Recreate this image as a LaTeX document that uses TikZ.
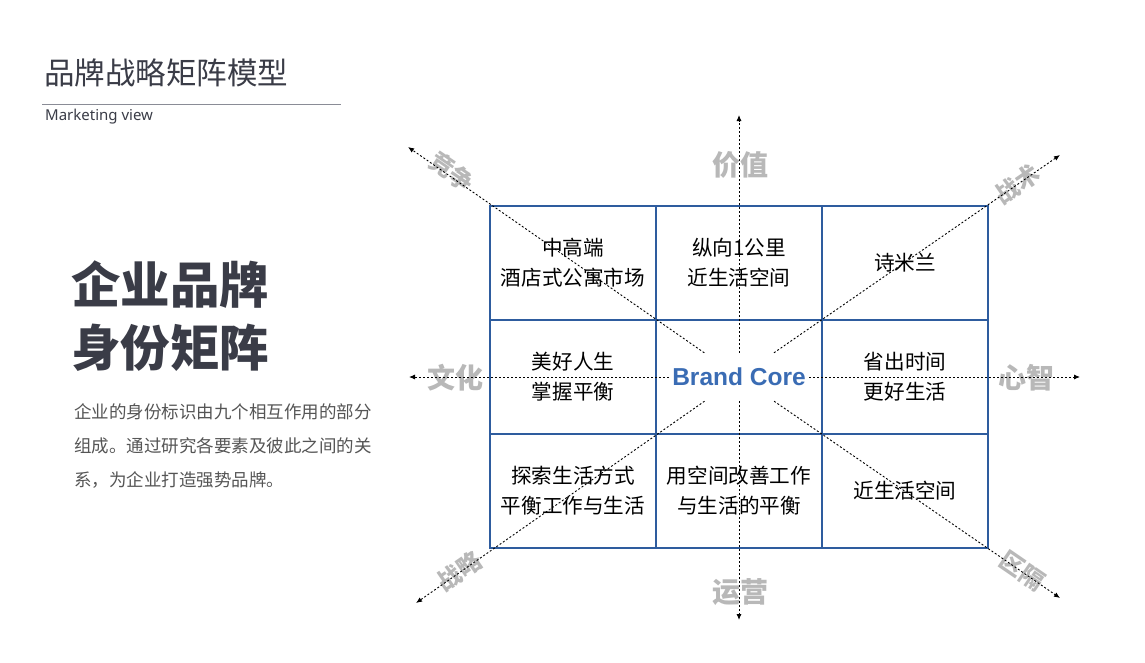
\documentclass[tikz,border=0pt]{standalone}
\usepackage{fontspec}
\setmainfont{Noto Sans CJK SC}
\newfontfamily\latinfont{Noto Sans}
\newfontfamily\corefont{Liberation Sans}
\usetikzlibrary{arrows.meta}
\definecolor{inkgray}{RGB}{58,60,71}
\definecolor{rulegray}{RGB}{138,140,150}
\definecolor{textgray}{RGB}{85,85,85}
\definecolor{axisgray}{RGB}{184,184,184}
\definecolor{gridblue}{RGB}{46,92,158}
\definecolor{coreblue}{RGB}{58,108,180}

\begin{document}
\begin{tikzpicture}[x=1pt, y=-1pt,
    cell/.style={rectangle, draw=gridblue, line width=1.1pt, minimum width=166pt, minimum height=114pt,
                 inner sep=0pt, align=center, font=\fontsize{20.6}{30}\selectfont},
    axislabel/.style={text=axisgray, inner sep=0pt, font=\fontsize{28}{28}\selectfont\bfseries},
    slantlabel/.style={axislabel, font=\fontsize{24}{24}\selectfont\bfseries},
    arrow/.style={-{Latex[length=6pt,width=5pt]}, line width=0.9pt, dash pattern=on 2pt off 2pt}
]

\fill[white] (0,0) rectangle (1145,662);

\node[anchor=west, inner sep=0pt, text=inkgray, font=\fontsize{30.5}{30}\selectfont] (title) at (44,73) {品牌战略矩阵模型};
\draw[rulegray, line width=0.8pt] (42,104) -- (341,104);
\node[anchor=west, inner sep=0pt, text=inkgray, font=\latinfont\fontsize{15}{15}\selectfont] (subtitle) at (45,117) {Marketing view};

\node[anchor=west, align=left, inner sep=0pt, text=inkgray, font=\fontsize{49.5}{63}\selectfont\bfseries] (headline) at (71,316) {企业品牌\\身份矩阵};
\node[anchor=west, align=left, inner sep=0pt, text=textgray, font=\fontsize{17.5}{34}\selectfont] (intro) at (74,446)
    {企业的身份标识由九个相互作用的部分\\组成。通过研究各要素及彼此之间的关\\系，为企业打造强势品牌。};

\node[cell] (c11) at (573,263) {中高端\\酒店式公寓市场};
\node[cell] (c12) at (739,263) {纵向1公里\\近生活空间};
\node[cell] (c13) at (905,263) {诗米兰};
\node[cell] (c21) at (573,377) {美好人生\\掌握平衡};
\node[cell] (c22) at (739,377) {};
\node[cell] (c23) at (905,377) {省出时间\\更好生活};
\node[cell] (c31) at (573,491) {探索生活方式\\平衡工作与生活};
\node[cell] (c32) at (739,491) {用空间改善工作\\与生活的平衡};
\node[cell] (c33) at (905,491) {近生活空间};

\node[axislabel] (value) at (740,165) {价值};
\node[axislabel] (operation) at (740,592) {运营};
\node[axislabel] (culture) at (455,378) {文化};
\node[axislabel] (mind) at (1026,378) {心智};
\node[slantlabel, rotate=-34.5] (compete) at (452,172) {竞争};
\node[slantlabel, rotate=34.5] (tactic) at (1017,184) {战术};
\node[slantlabel, rotate=34.5] (strategy) at (459,571) {战略};
\node[slantlabel, rotate=-34.5] (segment) at (1022,571) {区隔};

\node[minimum width=140pt, minimum height=48pt, inner sep=0pt, text=coreblue,
      font=\corefont\fontsize{24.5}{25}\selectfont\bfseries] (core) at (739,377) {Brand Core};

\coordinate (up) at (739,115);
\coordinate (down) at (739,620);
\coordinate (west) at (409,377);
\coordinate (east) at (1080,377);
\coordinate (nw) at (408,147);
\coordinate (ne) at (1060,155);
\coordinate (sw) at (416,603);
\coordinate (se) at (1060,598);

\draw[arrow] (core) -- (up);
\draw[arrow] (core) -- (down);
\draw[arrow] (core) -- (west);
\draw[arrow] (core) -- (east);
\draw[arrow] (core) -- (nw);
\draw[arrow] (core) -- (ne);
\draw[arrow] (core) -- (sw);
\draw[arrow] (core) -- (se);

\end{tikzpicture}
\end{document}
